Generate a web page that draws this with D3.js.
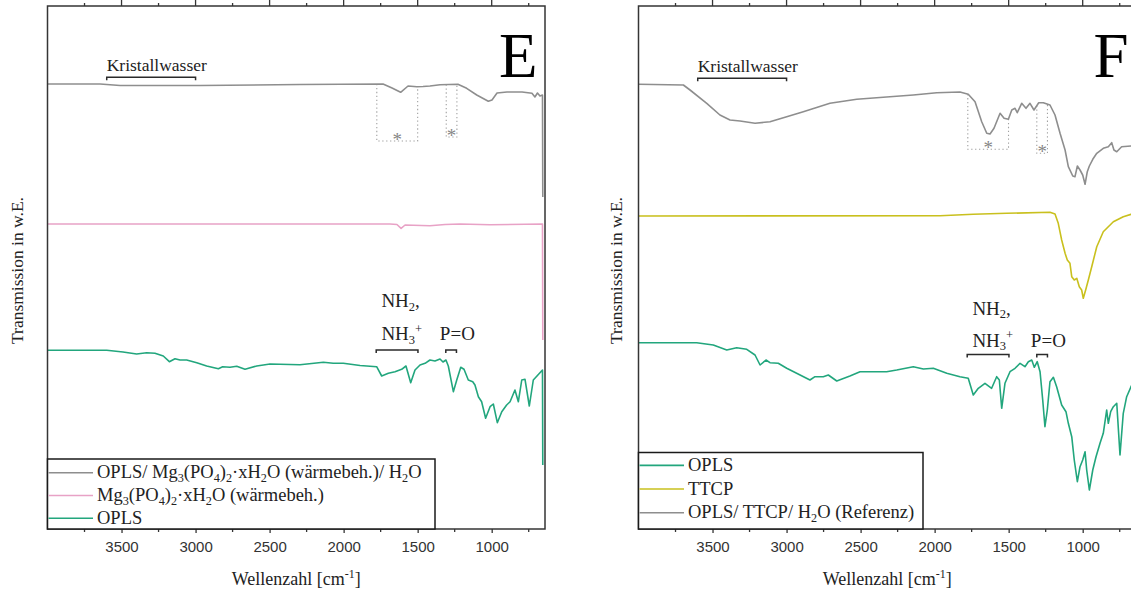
<!DOCTYPE html>
<html>
<head>
<meta charset="utf-8">
<script src="https://cdn.jsdelivr.net/npm/d3@7"></script>
<style>
  body { margin: 0; background: #fff; }
  svg { display: block; }
</style>
</head>
<body>
<svg id="chart" width="1131" height="594"></svg>
<script>
// x: Wellenzahl [cm-1], y: Transmission (w.E., curves stacked with offset)
var axisMajor = [3500, 3000, 2500, 2000, 1500, 1000];
var axisMinor = [3750, 3250, 2750, 2250, 1750, 1250, 750];

// Panel E
var eGray = [[4000,445],[3645,445],[3510,443.5],[2970,443.5],[2295,444.5],[1734,445],[1673,441],[1615,436.7],
  [1565,443],[1505,442.3],[1464,442.5],[1417,443],[1349,444.3],[1228,444.7],[1169,440.7],[1101,434],[1023,427.7],
  [998,429],[964,436],[897,437],[795,437],[728,435.7],[708,432],[691,436],[674,433],[657,434],[655,332]];
var ePink = [[4000,305],[2970,305],[1687,305],[1640,304.5],[1612,300.7],[1585,304],[1417,303.3],[1315,304.5],
  [1214,305],[1011,304.3],[657,305],[655,189]];
var eGreen = [[4000,178.7],[3600,178.7],[3490,177],[3398,175],[3330,176.3],[3274,175.7],[3218,173],[3177,167.3],
  [3139,170.3],[3105,169],[3060,169],[2992,166.3],[2925,163],[2846,160.3],[2817,162.3],[2767,161.7],[2722,162.7],
  [2666,159.7],[2587,163],[2497,165],[2295,164.3],[2137,166.7],[2070,165.7],[2002,165.7],[1889,163.5],[1777,162.3],
  [1743,153],[1698,155.7],[1653,157.3],[1608,159.7],[1579,163],[1547,146.3],[1518,159],[1484,164],[1450,165.7],
  [1417,169],[1383,168],[1349,170],[1329,167],[1309,169],[1293,163],[1259,137.3],[1236,149],[1209,161.7],
  [1187,159.7],[1158,149],[1128,147.3],[1113,144],[1090,132.3],[1068,127.3],[1041,110.7],[1011,122.3],[989,125],
  [962,106.3],[932,117.3],[899,124],[876,127.3],[843,139],[820,127.3],[797,149],[775,149.7],[746,123],[719,149],
  [674,156.3],[657,159],[655,64]];

// Panel F
var fGreen = [[4000,186.3],[3607,186.3],[3495,184],[3404,179],[3337,181.3],[3269,179.7],[3213,174],[3179,164],
  [3139,169],[3112,166.3],[3056,165.7],[2999,160.7],[2932,155.7],[2842,149],[2808,152.3],[2752,152.3],[2718,154],
  [2661,148],[2572,153],[2504,157.3],[2324,157.3],[2256,159],[2144,162.3],[2076,160],[2009,160.7],[1918,155.7],
  [1829,152.3],[1773,150.7],[1739,134],[1705,140.7],[1660,145.7],[1615,140.7],[1581,152.3],[1563,149],[1547,120.7],
  [1525,145.7],[1491,157.3],[1457,160.7],[1423,165.7],[1390,162.3],[1367,167.3],[1344,169],[1327,161.7],[1307,167.3],
  [1288,157.3],[1270,129],[1255,102.3],[1239,119],[1221,147.3],[1198,151.7],[1176,142.3],[1142,124],[1113,117.3],
  [1097,105.7],[1074,92.3],[1057,69],[1036,47.3],[1018,62.3],[1000,69],[984,77.3],[973,59],[955,39],[932,59],
  [910,72.3],[883,85.7],[861,95.7],[838,119],[827,105.7],[811,117.3],[793,122.3],[770,125.7],[748,74],[726,115.7],
  [703,132.3],[674,142.3],[650,149]];
var fYellow = [[4000,313],[1964,313.3],[1739,314.7],[1513,315.7],[1221,316.7],[1187,315],[1165,305.7],[1142,289],
  [1119,275.7],[1104,269],[1086,265.7],[1074,252.3],[1057,249],[1040,250.7],[1023,242.3],[1007,239],[996,230.7],
  [980,239],[962,249],[939,262.3],[905,282.3],[861,297.3],[793,307.3],[726,312.3],[674,314.7],[650,315]];
var fGray = [[4000,444.7],[3697,444],[3652,439],[3539,425.7],[3450,414],[3382,409],[3314,408],[3213,405.7],
  [3112,407.3],[2999,412.3],[2887,417.3],[2707,425.7],[2526,429.7],[2347,431.7],[2144,434],[1986,436.3],[1829,437],
  [1773,434.7],[1727,427.3],[1682,407.3],[1648,395.7],[1626,395],[1599,400.7],[1558,415.7],[1531,410.7],[1502,409.7],
  [1479,419],[1457,420.7],[1442,416.3],[1412,425.7],[1383,420.7],[1356,425.7],[1329,419],[1297,426.3],[1266,426.3],
  [1221,424],[1187,414],[1153,395.7],[1119,379],[1097,362.3],[1067,353],[1052,352.3],[1036,363],[1018,359],
  [1000,354],[984,344.7],[969,357.3],[955,363],[932,369.7],[905,375.7],[861,380.7],[827,382.3],[804,386.3],
  [789,379],[770,377.3],[737,382.3],[674,383],[650,383]];

// legend labels: [text, "sub"/"sup"/""]
var labMgMix = [["OPLS/ Mg",""],["3","sub"],["(PO",""],["4","sub"],[")",""],["2","sub"],["\u00b7xH",""],["2","sub"],
  ["O (w\u00e4rmebeh.)/ H",""],["2","sub"],["O",""]];
var labMg = [["Mg",""],["3","sub"],["(PO",""],["4","sub"],[")",""],["2","sub"],["\u00b7xH",""],["2","sub"],["O (w\u00e4rmebeh.)",""]];
var labOPLS = [["OPLS",""]];
var labTTCP = [["TTCP",""]];
var labRef = [["OPLS/ TTCP/ H",""],["2","sub"],["O (Referenz)",""]];

var cGray = "#8e8e8e", cPink = "#e8a2c6", cGreen = "#22a67d", cYellow = "#c9c01e";

var serif = "'Liberation Serif', 'Times New Roman', serif";
var sans = "'Liberation Sans', Arial, sans-serif";

var svg = d3.select("#chart");
var plotTop = 6, plotBottom = 529, plotW = 497.5;

function rich(sel, segs, fs) {
  var cur = 0;
  segs.forEach(function (s) {
    var target = s[1] === "sub" ? fs * 0.2 : (s[1] === "sup" ? -fs * 0.38 : 0);
    sel.append("tspan")
      .attr("dy", target - cur)
      .attr("font-size", s[1] ? fs * 0.66 : fs)
      .text(s[0]);
    cur = target;
  });
}

function valueAt(data, wn) {
  for (var i = 0; i < data.length - 1; i++) {
    var a = data[i], b = data[i + 1];
    if (wn <= a[0] && wn >= b[0]) {
      return a[1] + (b[1] - a[1]) * (a[0] - wn) / (a[0] - b[0]);
    }
  }
  return data[data.length - 1][1];
}

function drawPanel(p) {
  var x = d3.scaleLinear().domain([4000, 640]).range([p.left, p.left + plotW]);
  var y = d3.scaleLinear().domain([0, 523]).range([plotBottom, plotTop]);
  var g = svg.append("g");

  var clipId = "clip" + p.letter;
  g.append("clipPath").attr("id", clipId)
    .append("rect").attr("x", p.left).attr("y", plotTop).attr("width", plotW).attr("height", plotBottom - plotTop);

  var line = d3.line().x(d => x(d[0])).y(d => y(d[1]));

  // reference boxes on top curve (dotted)
  p.boxes.forEach(function (b) {
    g.append("path")
      .attr("d", "M" + x(b.from) + "," + y(valueAt(p.boxCurve, b.from)) + "V" + y(b.bottom) +
        "H" + x(b.to) + "V" + y(valueAt(p.boxCurve, b.to)))
      .attr("fill", "none").attr("stroke", "#a0a0a0").attr("stroke-width", 1.1)
      .attr("stroke-dasharray", "1.3 2.6");
    g.append("text")
      .attr("x", x((b.from + b.to) / 2)).attr("y", y(b.bottom) + 4.5)
      .attr("text-anchor", "middle").attr("font-family", serif).attr("font-size", 19)
      .attr("fill", "#858585").text("*");
  });

  var curves = g.append("g").attr("clip-path", "url(#" + clipId + ")");
  p.series.forEach(function (s) {
    curves.append("path").datum(s.data)
      .attr("d", line)
      .attr("fill", "none")
      .attr("stroke", s.color)
      .attr("stroke-width", 1.6)
      .attr("stroke-linejoin", "round");
  });

  // frame
  g.append("rect")
    .attr("x", p.left).attr("y", plotTop).attr("width", plotW).attr("height", plotBottom - plotTop)
    .attr("fill", "none").attr("stroke", "#353535").attr("stroke-width", 1.5);

  // top ticks (outward)
  axisMajor.forEach(function (t) {
    g.append("line").attr("x1", x(t)).attr("x2", x(t)).attr("y1", plotTop).attr("y2", plotTop - 6)
      .attr("stroke", "#353535").attr("stroke-width", 1.3);
  });
  axisMinor.forEach(function (t) {
    g.append("line").attr("x1", x(t)).attr("x2", x(t)).attr("y1", plotTop).attr("y2", plotTop - 3)
      .attr("stroke", "#353535").attr("stroke-width", 1.3);
  });

  // bottom axis
  var xAxis = d3.axisBottom(x).tickValues(axisMajor).tickSize(4).tickPadding(8).tickFormat(d3.format("d"));
  var ax = g.append("g").attr("transform", "translate(0," + plotBottom + ")").call(xAxis);
  ax.select(".domain").remove();
  ax.selectAll("line").attr("stroke", "#353535").attr("stroke-width", 1.3);
  ax.selectAll("text").attr("font-family", sans).attr("font-size", 15).attr("fill", "#333");
  axisMinor.forEach(function (t) {
    g.append("line").attr("x1", x(t)).attr("x2", x(t)).attr("y1", plotBottom).attr("y2", plotBottom + 3)
      .attr("stroke", "#353535").attr("stroke-width", 1.3);
  });

  // axis titles
  var xt = g.append("text").attr("x", p.left + plotW / 2).attr("y", 585)
    .attr("text-anchor", "middle").attr("font-family", serif).attr("font-size", 18).attr("fill", "#222");
  rich(xt, [["Wellenzahl [cm",""],["-1","sup"],["]",""]], 18);
  g.append("text")
    .attr("transform", "translate(" + p.ylabX + "," + ((plotTop + plotBottom) / 2 + 3) + ") rotate(-90)")
    .attr("text-anchor", "middle").attr("font-family", serif).attr("font-size", 17.5).attr("fill", "#222")
    .text("Transmission in w.E.");

  // panel letter
  g.append("text").attr("x", p.left + 490).attr("y", 77)
    .attr("text-anchor", "end").attr("font-family", serif).attr("font-size", 63).attr("fill", "#000")
    .text(p.letter);

  // Kristallwasser bracket
  function bracket(w1, w2, v) {
    var yy = y(v);
    g.append("path")
      .attr("d", "M" + x(w1) + "," + (yy + 3) + "V" + yy + "H" + x(w2) + "V" + (yy + 3))
      .attr("fill", "none").attr("stroke", "#2a2a2a").attr("stroke-width", 1.5);
  }
  bracket(3600, 3000, p.kw);
  g.append("text").attr("x", x(3600)).attr("y", y(p.kw) - 6.5)
    .attr("font-family", serif).attr("font-size", 17.5).attr("fill", "#222").text("Kristallwasser");

  // NH2/NH3+ and P=O
  bracket(1780, 1498, p.nh);
  bracket(1310, 1238, p.nh);
  var t1 = g.append("text").attr("x", x(1745)).attr("y", y(p.nh) - p.nh2Off)
    .attr("font-family", serif).attr("fill", "#222");
  rich(t1, [["NH",""],["2","sub"],[",",""]], 19);
  var t2 = g.append("text").attr("x", x(1745)).attr("y", y(p.nh) - p.nh3Off)
    .attr("font-family", serif).attr("fill", "#222");
  rich(t2, [["NH",""],["3","sub"],["+","sup"]], 19);
  g.append("text").attr("x", x(1350)).attr("y", y(p.nh) - p.nh3Off)
    .attr("font-family", serif).attr("font-size", 19).attr("fill", "#222").text("P=O");

  // legend
  var L = p.legend;
  g.append("rect").attr("x", p.left).attr("y", L.y1).attr("width", L.x2 - p.left).attr("height", plotBottom - L.y1)
    .attr("fill", "#fff").attr("stroke", "#1a1a1a").attr("stroke-width", 1.5);
  L.items.forEach(function (it, i) {
    var ry = L.rows[i];
    g.append("line").attr("x1", p.left + 1).attr("x2", p.left + 45.5).attr("y1", ry).attr("y2", ry)
      .attr("stroke", it.color).attr("stroke-width", 1.6);
    var tx = g.append("text").attr("x", p.left + 49.5).attr("y", ry + 5.5)
      .attr("font-family", serif).attr("fill", "#222");
    rich(tx, it.label, 18.5);
  });
}

drawPanel({
  left: 47.5, letter: "E", ylabX: 23,
  series: [{data: eGray, color: cGray}, {data: ePink, color: cPink}, {data: eGreen, color: cGreen}],
  boxCurve: eGray,
  boxes: [{from: 1776, to: 1500, bottom: 388}, {from: 1307, to: 1235, bottom: 392}],
  kw: 451.7, nh: 179, nh3Off: 10, nh2Off: 43,
  legend: {x2: 435, y1: 459, rows: [472.8, 495.5, 518.3],
    items: [{color: cGray, label: labMgMix}, {color: cPink, label: labMg}, {color: cGreen, label: labOPLS}]}
});

drawPanel({
  left: 638.5, letter: "F", ylabX: 622,
  series: [{data: fGray, color: cGray}, {data: fYellow, color: cYellow}, {data: fGreen, color: cGreen}],
  boxCurve: fGray,
  boxes: [{from: 1776, to: 1501, bottom: 379.7}, {from: 1310, to: 1238, bottom: 375.7}],
  kw: 450.7, nh: 174.5, nh3Off: 8, nh2Off: 40,
  legend: {x2: 923, y1: 452.5, rows: [465.4, 489, 512.8],
    items: [{color: cGreen, label: labOPLS}, {color: cYellow, label: labTTCP}, {color: cGray, label: labRef}]}
});
</script>
</body>
</html>
